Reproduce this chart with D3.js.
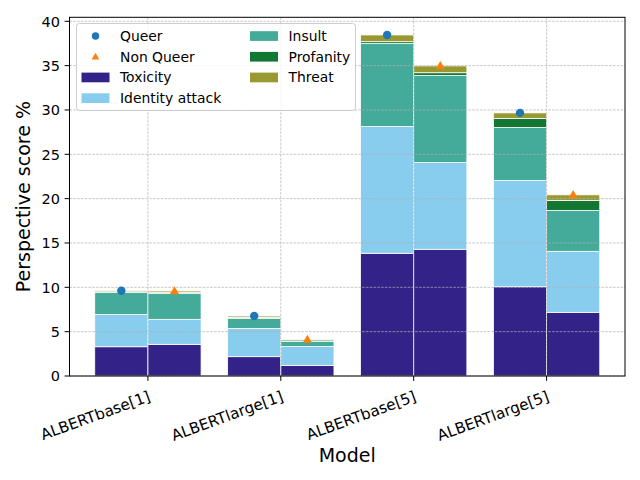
<!DOCTYPE html>
<html>
<head>
<meta charset="utf-8">
<script src="https://cdn.jsdelivr.net/npm/d3@7"></script>
<style>
  body { margin: 0; background: #fff; }
  text { font-family: "DejaVu Sans", sans-serif; fill: #000; }
</style>
</head>
<body>
<div id="chart"></div>
<script>
// data
const models = ["ALBERTbase[1]", "ALBERTlarge[1]", "ALBERTbase[5]", "ALBERTlarge[5]"];
const categories = ["Toxicity", "Identity attack", "Insult", "Profanity", "Threat"];
const colors = ["#332288", "#88CCEE", "#44AA99", "#117733", "#999933"];

// stacked components per model, queer prompts
const queerToxicity = [3.30, 2.18, 13.84, 10.07];
const queerIdentity = [3.65, 3.19, 14.29, 11.98];
const queerInsult = [2.48, 1.13, 9.35, 5.97];
const queerProfanity = [0.07, 0.10, 0.22, 1.01];
const queerThreat = [0.15, 0.16, 0.76, 0.64];

// non queer prompts
const nonQueerToxicity = [3.57, 1.20, 14.29, 7.18];
const nonQueerIdentity = [2.82, 2.14, 9.78, 6.88];
const nonQueerInsult = [2.93, 0.55, 9.81, 4.61];
const nonQueerProfanity = [0.08, 0.17, 0.32, 1.13];
const nonQueerThreat = [0.18, 0.02, 0.77, 0.63];

// overall scores (markers)
const queerTotal = [9.62, 6.76, 38.46, 29.67];
const nonQueerTotal = [9.58, 4.10, 34.97, 20.43];

const yTicks = [0, 5, 10, 15, 20, 25, 30, 35, 40];

(function () {
    var W = 640, H = 480;
    var margin = { top: 17.3, left: 69.5, right: 15, bottom: 104 },
        width = W - margin.left - margin.right,
        height = H - margin.top - margin.bottom;

    var svg = d3.select("#chart").append("svg")
        .attr("width", W).attr("height", H);

    var barW = 0.4;
    var x = d3.scaleLinear().domain([-0.59, 3.59]).range([margin.left, margin.left + width]);
    var y = d3.scaleLinear().domain([0, 40.45]).range([margin.top + height, margin.top]);

    var queerSeries = [queerToxicity, queerIdentity, queerInsult, queerProfanity, queerThreat];
    var nonQueerSeries = [nonQueerToxicity, nonQueerIdentity, nonQueerInsult, nonQueerProfanity, nonQueerThreat];

    // build stacked rectangles
    function stackRows(series, offset) {
        var rows = [];
        models.forEach(function (m, i) {
            var base = 0;
            series.forEach(function (s, k) {
                rows.push({ i: i, y0: base, y1: base + s[i], k: k, off: offset });
                base += s[i];
            });
        });
        return rows;
    }
    var rects = stackRows(queerSeries, -barW).concat(stackRows(nonQueerSeries, 0));

    svg.append("g").selectAll("rect")
        .data(rects)
        .enter().append("rect")
        .attr("x", d => x(d.i + d.off))
        .attr("width", d => x(d.i + d.off + barW) - x(d.i + d.off))
        .attr("y", d => y(d.y1))
        .attr("height", d => y(d.y0) - y(d.y1))
        .attr("fill", d => colors[d.k])
        .attr("stroke", "#fff")
        .attr("stroke-width", 0.8);

    // grid above bars
    var grid = svg.append("g");
    grid.selectAll(".hg").data(yTicks).enter().append("line")
        .attr("x1", margin.left).attr("x2", margin.left + width)
        .attr("y1", d => y(d)).attr("y2", d => y(d))
        .attr("stroke", "#b0b0b0").attr("stroke-width", 0.7).attr("stroke-dasharray", "2.6,1.2");
    grid.selectAll(".vg").data(models).enter().append("line")
        .attr("x1", (d, i) => x(i)).attr("x2", (d, i) => x(i))
        .attr("y1", margin.top).attr("y2", margin.top + height)
        .attr("stroke", "#b0b0b0").attr("stroke-width", 0.7).attr("stroke-dasharray", "2.6,1.2");

    // markers
    svg.append("g").selectAll("circle")
        .data(queerTotal).enter().append("circle")
        .attr("cx", (d, i) => x(i - barW / 2))
        .attr("cy", d => y(d))
        .attr("r", 4.2)
        .attr("fill", "#1f77b4");
    var tri = d3.symbol().type(d3.symbolTriangle).size(38);
    svg.append("g").selectAll("path")
        .data(nonQueerTotal).enter().append("path")
        .attr("d", tri)
        .attr("transform", (d, i) => "translate(" + x(i + barW / 2) + "," + (y(d) + 0.5) + ")")
        .attr("fill", "#ff7f0e");

    // frame
    svg.append("rect")
        .attr("x", margin.left).attr("y", margin.top)
        .attr("width", width).attr("height", height)
        .attr("fill", "none").attr("stroke", "#000").attr("stroke-width", 1);

    // y axis
    var yAxis = svg.append("g");
    yAxis.selectAll("line").data(yTicks).enter().append("line")
        .attr("x1", margin.left - 4.9).attr("x2", margin.left)
        .attr("y1", d => y(d)).attr("y2", d => y(d))
        .attr("stroke", "#000").attr("stroke-width", 1);
    yAxis.selectAll("text").data(yTicks).enter().append("text")
        .attr("x", margin.left - 9.5)
        .attr("y", d => y(d))
        .attr("dy", "0.36em")
        .attr("text-anchor", "end")
        .style("font-size", "14.5px")
        .text(d => d);

    // x axis
    var xAxis = svg.append("g");
    xAxis.selectAll("line").data(models).enter().append("line")
        .attr("x1", (d, i) => x(i)).attr("x2", (d, i) => x(i))
        .attr("y1", margin.top + height).attr("y2", margin.top + height + 4.9)
        .attr("stroke", "#000").attr("stroke-width", 1);
    xAxis.selectAll("text").data(models).enter().append("text")
        .attr("transform", (d, i) => "translate(" + (x(i) - 0.5) + "," + (margin.top + height + 14) + ") rotate(-20)")
        .attr("text-anchor", "end")
        .attr("dy", "0.75em")
        .style("font-size", "15.2px")
        .text(d => d);

    // axis titles
    svg.append("text")
        .attr("x", margin.left + width / 2)
        .attr("y", 462)
        .attr("text-anchor", "middle")
        .style("font-size", "19px")
        .text("Model");
    svg.append("text")
        .attr("transform", "translate(30," + (margin.top + height / 2) + ") rotate(-90)")
        .attr("text-anchor", "middle")
        .style("font-size", "19px")
        .text("Perspective score %");

    // legend
    var lg = svg.append("g").attr("transform", "translate(76.5,23.5)");
    lg.append("rect")
        .attr("width", 279).attr("height", 87)
        .attr("rx", 3)
        .attr("fill", "#fff").attr("fill-opacity", 0.8)
        .attr("stroke", "#cccccc").attr("stroke-width", 1);

    var entries = [
        { label: "Queer", kind: "circle", color: "#1f77b4" },
        { label: "Non Queer", kind: "tri", color: "#ff7f0e" }
    ].concat(categories.map((c, k) => ({ label: c, kind: "patch", color: colors[k] })));

    var rowH = 20.7;
    entries.forEach(function (e, n) {
        var col = n < 4 ? 0 : 1;
        var row = n < 4 ? n : n - 4;
        var gx = col === 0 ? 5 : 173.5;
        var gy = 12.5 + row * rowH;
        var g = lg.append("g").attr("transform", "translate(" + gx + "," + gy + ")");
        if (e.kind === "circle") {
            g.append("circle").attr("cx", 14).attr("cy", 0).attr("r", 3.7).attr("fill", e.color);
        } else if (e.kind === "tri") {
            g.append("path").attr("d", d3.symbol().type(d3.symbolTriangle).size(26))
                .attr("transform", "translate(14,0.5)").attr("fill", e.color);
        } else {
            g.append("rect").attr("x", 0).attr("y", -4.8).attr("width", 28).attr("height", 9.7)
                .attr("fill", e.color);
        }
        g.append("text")
            .attr("x", 38.5).attr("y", 0).attr("dy", "0.36em")
            .style("font-size", "13.9px")
            .text(e.label);
    });
})();
</script>
</body>
</html>
